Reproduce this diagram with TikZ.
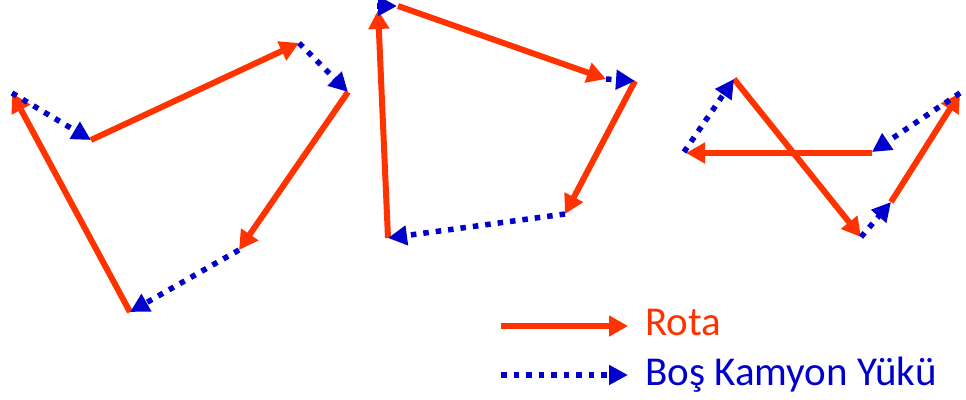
\documentclass[tikz,border=0pt]{standalone}
\usepackage{fontspec}
\setmainfont{Carlito}
\usetikzlibrary{arrows.meta}
\definecolor{rotared}{RGB}{255,51,0}
\definecolor{emptyblue}{RGB}{0,0,204}
\tikzset{
  rota/.style={draw=rotared, line width=6pt, line cap=butt,
    -{Triangle[length=19pt,width=20pt]}},
  bos/.style={draw=emptyblue, line width=5.5pt, line cap=butt,
    dash pattern=on 5.5pt off 7pt,
    -{Triangle[length=19pt,width=19pt]}},
  lbl/.style={anchor=base west, inner sep=0pt, font=\fontsize{41}{49}\selectfont}
}
\begin{document}
\begin{tikzpicture}[x=1pt,y=-1pt]
\useasboundingbox (0,0) rectangle (966,399);
% left group
\coordinate (A1) at (12,93);
\coordinate (A2) at (91,140);
\coordinate (A3) at (299,43);
\coordinate (A4) at (348,92);
\coordinate (A5) at (239,250);
\coordinate (A6) at (130,312);
% middle group
\coordinate (B1) at (378,10);
\coordinate (B1s) at (377,6);
\coordinate (B1t) at (397,6);
\coordinate (B2) at (398,6);
\coordinate (B3) at (606,79);
\coordinate (B4) at (635,81);
\coordinate (B5) at (565,214);
\coordinate (B6) at (388,238);
% right group
\coordinate (C1) at (684,152);
\coordinate (C1r) at (686,153);
\coordinate (C2) at (734,79);
\coordinate (C3) at (861,237);
\coordinate (C4) at (891,202);
\coordinate (C5) at (960,93);
\coordinate (C6) at (872,152);
\coordinate (C6r) at (872,153);
% legend
\coordinate (L1) at (501,326);
\coordinate (L2) at (628,326);
\coordinate (L3) at (501,375);
\coordinate (L4) at (628,375);

% red routes
\draw[rota] (A2) -- (A3);
\draw[rota] (A4) -- (A5);
\draw[rota] (A6) -- (A1);
\draw[rota] (B2) -- (B3);
\draw[rota] (B4) -- (B5);
\draw[rota] (B6) -- (B1);
\draw[rota] (C2) -- (C3);
\draw[rota] (C4) -- (C5);
\draw[rota] (C6r) -- (C1r);
% blue empty moves
\draw[bos] (A1) -- (A2);
\draw[bos] (A3) -- (A4);
\draw[bos] (A5) -- (A6);
\draw[bos] (B1s) -- (B1t);
\draw[bos] (B3) -- (B4);
\draw[bos] (B5) -- (B6);
\draw[bos] (C1) -- (C2);
\draw[bos] (C3) -- (C4);
\draw[bos] (C5) -- (C6);

% legend
\draw[rota] (L1) -- (L2);
\draw[bos] (L3) -- (L4);
\node[lbl, text=rotared] (rota) at (645,335) {Rota};
\node[lbl, text=emptyblue] (bos) at (645,385) {Boş Kamyon Yükü};
\end{tikzpicture}
\end{document}
